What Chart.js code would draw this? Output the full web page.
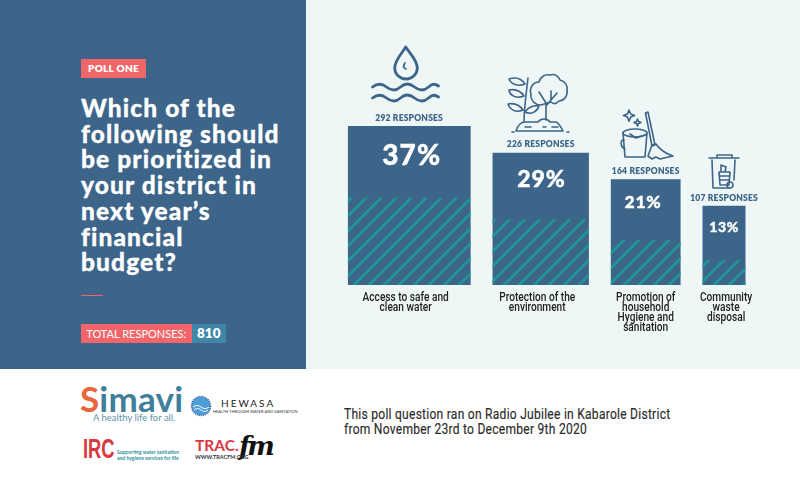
<!DOCTYPE html>
<html>
<head>
<meta charset="utf-8">
<title>Poll one</title>
<script src="https://cdn.jsdelivr.net/npm/chart.js@4"></script>
<style>
  html, body { margin: 0; padding: 0; background: #fff; }
  #page { position: relative; width: 800px; height: 503px; overflow: hidden; font-family: Lato, sans-serif; }
  #page > * { position: absolute; }
  #left { left: 0; top: 0; width: 306px; height: 369px; background: #3c6589; }
  #right { left: 306px; top: 0; width: 494px; height: 369px; background: #eef7f6; }
  #chartBox { left: 306px; top: 0; width: 494px; height: 369px; }
  #pollTag { left: 81px; top: 59px; width: 65px; height: 18.5px; line-height: 18.5px; background: #f2666a; color: #fff; font-weight: 800; font-size: 10px; letter-spacing: .3px; text-align: center; }
  #title { left: 81px; top: 95px; margin: 0; color: #fff; font-weight: 900; font-size: 24.5px; line-height: 25.7px; letter-spacing: 1.1px; white-space: pre; -webkit-text-stroke: .3px #fff; }
  #rule { left: 81px; top: 295px; width: 22px; height: 1px; background: #f2666a; }
  #totalLabel { left: 81px; top: 324px; width: 110.5px; height: 18.7px; line-height: 19px; background: #f2666a; color: #fff; font-size: 11px; text-align: center; white-space: nowrap; }
  #totalValue { left: 191.5px; top: 324px; width: 34.5px; height: 18.7px; line-height: 18.7px; background: #3f86a8; color: #fff; font-weight: 800; font-size: 13.5px; text-align: center; }
  #note { left: 344px; top: 407px; margin: 0; color: #2b2b2b; font-family: Roboto, sans-serif; font-weight: 400; font-size: 14px; line-height: 15px; letter-spacing: .3px; white-space: pre; transform: scaleX(.86); transform-origin: left top; -webkit-text-stroke: .15px #2b2b2b; }
  svg { overflow: visible; }
  .logo { white-space: nowrap; }
</style>
</head>
<body>
<div id="page">
  <div id="left"></div>
  <div id="right"></div>

  <div id="pollTag">POLL ONE</div>
  <h1 id="title">Which of the
following should
be prioritized in
your district in
next year’s
financial
budget?</h1>
  <div id="rule"></div>
  <div id="totalLabel">TOTAL RESPONSES:</div>
  <div id="totalValue">810</div>

  <svg style="left:0;top:0" width="800" height="369" fill="none" stroke="#3c6589" stroke-width="1.6" stroke-linecap="round" stroke-linejoin="round">
    <!-- water -->
    <g stroke-width="2.8">
      <path d="M405.7 47c-4 7-11 13-11 21a11.3 11 0 0 0 22.600 0c0-8-7-14-11.600-21z"/>
      <path d="M372.500 87c5-4 9-4 14 0s9.500 4 14 0 9-4 14 0 9.500 4 14 0 7-3 10-1"/>
      <path d="M372.500 98c5-4 9-4 14 0s9.500 4 14 0 9-4 14 0 9.500 4 14 0 7-3 10-1"/>
      <path d="M405 63c-2 3-2 5 1 6" stroke-width="1.800"/>
    </g>
    <!-- tree -->
    <path d="M524 122c0-12 2-28 4-44M524 96c-4-6-10-7-15-6 1 6 8 9 15 6zM525 84c-4-6-10-7-16-5 2 5 9 8 16 5zM523 110c-4-6-10-7-15-6 2 6 8 9 15 6zM525 112c3-5 9-7 14-6-2 6-8 9-14 6z"/>
    <path d="M541 105c-6 0-11-5-10-11-2-6 2-12 8-12 1-5 6-8 11-7 5-2 9 2 10 5 5 1 8 6 7 10 1 6-3 11-8 11-3 3-6 3-8 1z"/>
    <path d="M546 120V103l-7-11M546 106l5-6v-9M551 100l6-7"/>
    <path d="M516 131c2-6 5-9 9-9h13c3-4 9-4 12 0h6c3 1 5 5 7 9zM512 132h2M567 132h2M525 127h6M543 127h3M552 127h6"/>
    <!-- bucket and broom -->
    <path d="M629 110l1.700 4 4 1.500-4 1.600-1.700 4-1.600-4-4-1.600 4-1.500zM637.500 119l1 2.500 2.500 1-2.500 1-1 2.500-1-2.500-2.500-1 2.500-1z"/>
    <ellipse cx="635" cy="133" rx="12" ry="4"/>
    <path d="M623 133l2 24h20l2-24M624 140c-4-1-4 7 1 9M630 134l6 4 9-3"/>
    <path d="M645.500 113l2.500-1 7 33-3 1zM652 145l-4 11 4 3 4-2 4 2 4-1 9-2c-6-2-13-6-17-12z"/>
    <!-- bin -->
    <path d="M709 158h30M717 158v-3h15v3M712 160l1 28h16M735 160l-1 20M721 165l5 2-1 5h-4zM719 172h11l-1 13h-9zM720 176h9M720 180h9"/>
    <circle cx="730" cy="185" r="3"/>
  </svg>

  <canvas id="chartBox" width="494" height="369"></canvas>

  <!-- logos -->
  <div class="logo" style="left:80px;top:380px;font:700 35px/36px Lato,sans-serif;color:#3f7f9b;letter-spacing:.2px"><span style="color:#e8663d">S</span>imavi</div>
  <div class="logo" style="left:93px;top:412px;font:400 9.500px/12px Lato,sans-serif;color:#5d94a8">A healthy life for all.</div>
  <svg style="left:190px;top:395px" width="22" height="22"><circle cx="11" cy="11" r="9.500" fill="#4b9fd6" stroke="#3b5da8" stroke-width="1.500" stroke-dasharray="1 1"/><path d="M3 12c3-2 5-2 8 0s5 2 8 0M4 15c3-2 4-2 7 0s4 2 7 0" fill="none" stroke="#fff"/></svg>
  <div class="logo" style="left:221px;top:397px;font:400 10px/13px Lato,sans-serif;color:#222;letter-spacing:2px">HEWASA</div>
  <div class="logo" style="left:213px;top:409px;font:400 4px/6px Lato,sans-serif;color:#333">HEALTH THROUGH WATER AND SANITATION</div>
  <div class="logo" style="left:83px;top:436px;font:700 27px/26px 'Liberation Sans',sans-serif;color:#d8383f;transform:scaleX(.68);transform-origin:left top">IRC</div>
  <div class="logo" style="left:117px;top:449px;font:700 5px/6px Lato,sans-serif;color:#2e8f9c">Supporting water sanitation<br>and hygiene services for life</div>
  <div class="logo" style="left:195px;top:437px;font:700 15.500px/17px Lato,sans-serif;color:#d8383f">TRAC.</div>
  <div class="logo" style="left:239px;top:432px;font:italic 700 26px/28px 'DejaVu Serif',serif;color:#111;letter-spacing:-3px">fm</div>
  <div class="logo" style="left:195px;top:454px;font:700 5.500px/7px Lato,sans-serif;color:#333">WWW.TRACFM.ORG</div>

  <p id="note">This poll question ran on Radio Jubilee in Kabarole District
from November 23rd to December 9th 2020</p>
</div>

<script>
// values
const categories = [
    ['Access to safe and', 'clean water'],
    ['Protection of the', 'environment'],
    ['Promotion of', 'household', 'Hygiene and', 'sanitation'],
    ['Community', 'waste', 'disposal']
];
const responses = [292, 226, 164, 107];
const percents = [37, 29, 21, 13];
const hatchLevels = [15.4, 9, 2.7, -3.3];

// axis ranges: bar width is proportional to the percent, bars are a fixed gap apart
const yMin = -10.8;
const yMax = 74.9;
const barGap = 6.6;

const blue = '#3c6589';
const percentFontSizes = [28, 23, 17.5, 14];
// the labels in the original are not quite centred on their bars (pixels)
const percentNudge = [2.5, 0.7, -2.7, 0];
const labelNudge = [-3.5, -3.5, 0, 2];

function barCentres() {
    let edge = 0;
    return percents.map(p => {
        const centre = edge + p / 2;
        edge += p + barGap;
        return centre;
    });
}

function stripes() {
    const tile = document.createElement('canvas');
    tile.width = 15;
    tile.height = 15;
    const c = tile.getContext('2d');
    c.strokeStyle = '#1f9696';
    c.lineWidth = 2.8;
    [[0, 3, 3, 0], [0, 18, 18, 0]].forEach(l => {
        c.beginPath();
        c.moveTo(l[0] - 3, l[1] + 3);
        c.lineTo(l[2] + 3, l[3] - 3);
        c.stroke();
    });
    return document.getElementById('chartBox').getContext('2d').createPattern(tile, 'repeat');
}

// each bar gets its own width, the bar controller only knows one thickness
const variableWidth = {
    id: 'variableWidth',
    afterDatasetsUpdate(chart) {
        const x = chart.scales.x;
        chart.getSortedVisibleDatasetMetas().forEach(meta => {
            meta.data.forEach((bar, i) => {
                bar.width = x.getPixelForValue(percents[i]) - x.getPixelForValue(0);
            });
        });
    }
};

const barText = {
    id: 'barText',
    afterDatasetsDraw(chart) {
        const c = chart.ctx;
        const bars = chart.getDatasetMeta(1).data;
        c.save();
        c.textAlign = 'center';
        c.textBaseline = 'middle';
        bars.forEach((bar, i) => {
            c.fillStyle = blue;
            c.font = '800 8.5px Lato, sans-serif';
            c.letterSpacing = '0.2px';
            c.fillText(responses[i] + ' RESPONSES', bar.x, bar.y - 8);
            const size = percentFontSizes[i];
            c.fillStyle = '#fff';
            c.strokeStyle = '#fff';
            c.lineWidth = 0.4;
            c.font = '900 ' + size + 'px Lato, sans-serif';
            c.letterSpacing = (size * 0.04) + 'px';
            c.fillText(percents[i] + '%', bar.x + percentNudge[i], bar.y + size * 0.6 + 13);
            c.strokeText(percents[i] + '%', bar.x + percentNudge[i], bar.y + size * 0.6 + 13);
        });
        c.restore();
    }
};

// no condensed face is installed, so the axis labels are squeezed by hand
const axisLabels = {
    id: 'axisLabels',
    afterDraw(chart) {
        const c = chart.ctx;
        const x = chart.scales.x;
        const squeeze = 0.78;
        c.save();
        c.fillStyle = '#222';
        c.font = '500 13px Roboto, sans-serif';
        c.textAlign = 'center';
        c.textBaseline = 'middle';
        x.ticks.forEach((tick, i) => {
            categories[i].forEach((line, n) => {
                c.save();
                c.translate(x.getPixelForValue(tick.value) + labelNudge[i], x.top + 13 + n * 10);
                c.scale(squeeze, 1);
                c.fillText(line, 0, 0);
                c.restore();
            });
        });
        c.restore();
    }
};

new Chart(document.getElementById('chartBox'), {
    type: 'bar',
    data: {
        datasets: [
            {
                label: 'Hatch',
                data: barCentres().map((x, i) => ({ x: x, y: hatchLevels[i] })),
                backgroundColor: stripes(),
                base: yMin
            },
            {
                label: 'Share of responses',
                data: barCentres().map((x, i) => ({ x: x, y: percents[i] })),
                backgroundColor: blue,
                base: yMin
            }
        ]
    },
    options: {
        responsive: false,
        animation: false,
        grouped: false,
        layout: { padding: { left: 41.7, right: 54.3, top: 0, bottom: 0 } },
        plugins: { legend: { display: false }, tooltip: { enabled: false } },
        scales: {
            x: {
                type: 'linear',
                offset: false,
                min: 0,
                max: 100 + 3 * barGap,
                grid: { display: false },
                border: { display: false },
                afterBuildTicks(scale) {
                    scale.ticks = barCentres().map(v => ({ value: v }));
                },
                afterFit(scale) {
                    scale.height = 84;
                },
                ticks: { display: false }
            },
            y: { display: false, min: yMin, max: yMax }
        }
    },
    plugins: [variableWidth, barText, axisLabels]
});
</script>
</body>
</html>
